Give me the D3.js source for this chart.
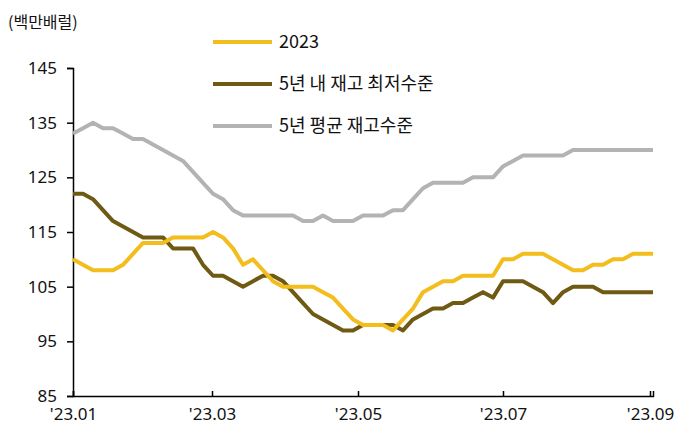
<!DOCTYPE html>
<html><head><meta charset="utf-8">
<script src="https://cdn.jsdelivr.net/npm/d3@7"></script>
<style>body{margin:0;background:#fff;font-family:"Noto Sans CJK KR","Noto Sans",sans-serif}</style>
</head><body><svg id="c" width="697" height="442"></svg>
<script>
const series2023 = [110,109,108,108,108,109,111,113,113,113,114,114,114,114,115,114,112,109,110,108,106,105,105,105,105,104,103,101,99,98,98,98,97,99,101,104,105,106,106,107,107,107,107,110,110,111,111,111,110,109,108,108,109,109,110,110,111,111,111];
const seriesMin = [122,122,121,119,117,116,115,114,114,114,112,112,112,109,107,107,106,105,106,107,107,106,104,102,100,99,98,97,97,98,98,98,98,97,99,100,101,101,102,102,103,104,103,106,106,106,105,104,102,104,105,105,105,104,104,104,104,104,104];
const seriesAvg = [133,134,135,134,134,133,132,132,131,130,129,128,126,124,122,121,119,118,118,118,118,118,118,117,117,118,117,117,117,118,118,118,119,119,121,123,124,124,124,124,125,125,125,127,128,129,129,129,129,129,130,130,130,130,130,130,130,130,130];
const yTicks = [85,95,105,115,125,135,145];
const xTickLabels = ["'23.01","'23.03","'23.05","'23.07","'23.09"];
const xTickIdx = [0,13.9,28.5,43,57.7];
const legendNames = ["2023","5년 내 재고 최저수준","5년 평균 재고수준"];
const colors = ["#f2bd1d","#6e5a12","#b3b3b3"];

const svg = d3.select("#c");
const x = d3.scaleLinear().domain([0, series2023.length-1]).range([73,653]);
const y = d3.scaleLinear().domain([85,145]).range([396,68]);

const ya = svg.append("g").attr("transform","translate(73,0)")
  .call(d3.axisLeft(y).tickValues(yTicks).tickSize(6).tickPadding(10));
ya.select(".domain").attr("stroke","#000").attr("stroke-width",1.5);
ya.selectAll("line").attr("stroke","#000").attr("stroke-width",1.5);
ya.selectAll("text").attr("font-size",17).attr("fill","#111").attr("font-family","Noto Sans, sans-serif");

const xa = svg.append("g").attr("transform","translate(0,396)")
  .call(d3.axisBottom(x).tickValues(xTickIdx).tickFormat((d,i)=>xTickLabels[i]).tickSize(-5).tickPadding(12));
xa.select(".domain").attr("stroke","#000").attr("stroke-width",1.5);
xa.selectAll("line").attr("stroke","#000").attr("stroke-width",1.5);
xa.selectAll("text").attr("font-size",17).attr("fill","#111").attr("font-family","Noto Sans, sans-serif");

svg.append("text").attr("x",8).attr("y",28).attr("font-size",16).attr("fill","#111").text("(백만배럴)");

const line = d3.line().x((d,i)=>x(i)).y(d=>y(d));
[seriesAvg, seriesMin, series2023].forEach((s,k)=>{
  const c = [colors[2],colors[1],colors[0]][k];
  svg.append("path").datum(s).attr("d",line).attr("fill","none").attr("stroke",c).attr("stroke-width",4).attr("stroke-linejoin","round");
});

legendNames.forEach((n,i)=>{
  const ly = 42 + i*42;
  svg.append("line").attr("x1",213).attr("x2",272).attr("y1",ly).attr("y2",ly).attr("stroke",colors[i]).attr("stroke-width",4);
  svg.append("text").attr("x",279).attr("y",ly+6).attr("font-size",18).attr("fill","#111").text(n);
});
</script></body></html>
